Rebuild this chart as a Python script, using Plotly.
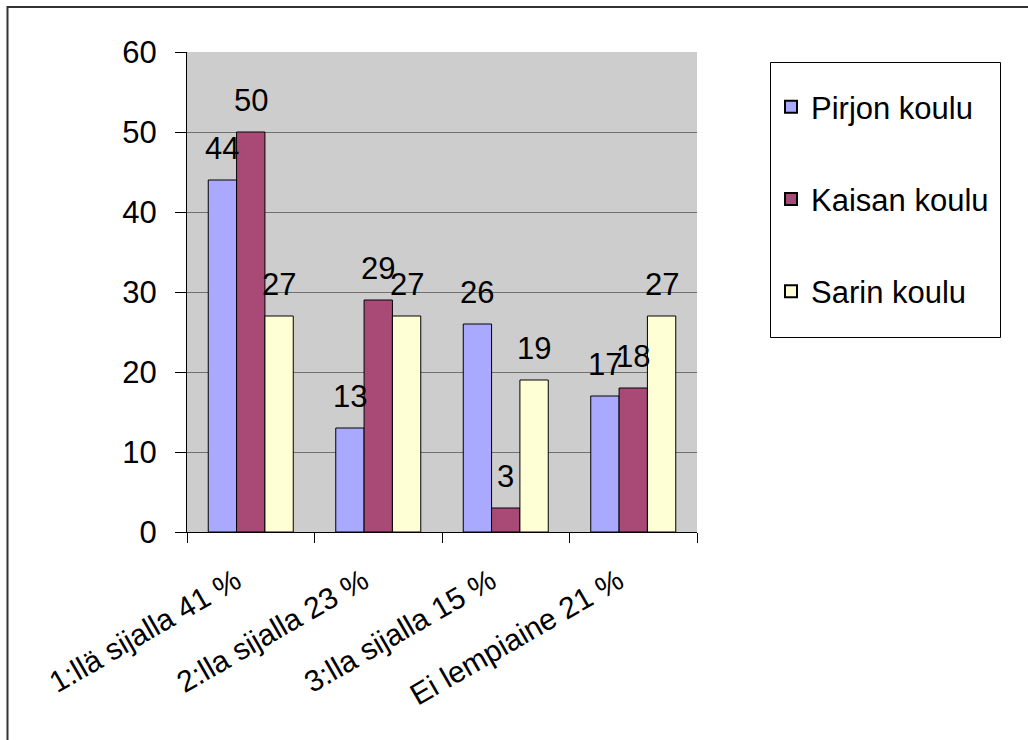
import plotly.graph_objects as go

categories = ["1:llä sijalla 41 %", "2:lla sijalla 23 %", "3:lla sijalla 15 %", "Ei lempiaine 21 %"]
series_names = ["Pirjon koulu", "Kaisan koulu", "Sarin koulu"]
pirjo = [44, 13, 26, 17]
kaisa = [50, 29, 3, 18]
sari = [27, 27, 19, 27]
colors = ["#A9A9FF", "#A94A76", "#FFFFD5"]
y_ticks = [0, 10, 20, 30, 40, 50, 60]

W, H = 1028, 740
L, R, T, B = 187, 331, 52, 208
PW = W - L - R
PH = H - T - B
BARGAP = 1 / 3
FONT = "Liberation Sans, Arial, sans-serif"
FS = 31

fig = go.Figure()
all_series = [pirjo, kaisa, sari]
for i, (name, vals) in enumerate(zip(series_names, all_series)):
    fig.add_trace(go.Bar(
        x=categories, y=vals, name=name,
        marker=dict(color=colors[i], line=dict(color="#000000", width=1)),
        legendgroup=name,
    ))

# data labels
cat_w = PW / len(categories)
bar_w = cat_w * (1 - BARGAP) / len(all_series)
annotations = []
for i, vals in enumerate(all_series):
    off = (i - (len(all_series) - 1) / 2) * bar_w
    for c, v in zip(categories, vals):
        annotations.append(dict(
            x=c, y=v, xref="x", yref="y", text=str(v), showarrow=False,
            xshift=off, yshift=12, yanchor="bottom", xanchor="center",
            font=dict(family=FONT, size=FS, color="#000000"),
        ))

def px_x(p):
    return (p - L) / PW

def px_y(p):
    return (H - B - p) / PH

shapes = [
    # outer frame lines (top & left)
    dict(type="line", xref="paper", yref="paper", x0=px_x(7.5), x1=px_x(W + 5),
         y0=px_y(7), y1=px_y(7), line=dict(color="#333333", width=2)),
    dict(type="line", xref="paper", yref="paper", x0=px_x(7.5), x1=px_x(7.5),
         y0=px_y(6), y1=px_y(H + 5), line=dict(color="#333333", width=2)),
    # legend box
    dict(type="rect", xref="paper", yref="paper", x0=px_x(770.5), x1=px_x(1000.5),
         y0=px_y(62.5), y1=px_y(337.5), line=dict(color="#000000", width=1),
         fillcolor="rgba(0,0,0,0)"),
]

fig.update_layout(
    width=W, height=H,
    margin=dict(l=L, r=R, t=T, b=B, pad=0),
    paper_bgcolor="#FFFFFF",
    plot_bgcolor="#CDCDCD",
    barmode="group",
    bargap=BARGAP,
    bargroupgap=0,
    font=dict(family=FONT, size=FS, color="#000000"),
    annotations=annotations,
    shapes=shapes,
    legend=dict(
        x=px_x(771), y=px_y(80), xanchor="left", yanchor="top",
        bgcolor="rgba(0,0,0,0)", borderwidth=0,
        font=dict(family=FONT, size=FS, color="#000000"),
        traceorder="grouped", tracegroupgap=49,
        itemsizing="constant",
    ),
    xaxis=dict(
        type="category",
        showline=True, linecolor="#000000", linewidth=1,
        ticks="outside", tickson="boundaries", ticklen=10, tickcolor="#000000",
        tickangle=-30, tickfont=dict(family=FONT, size=30, color="#000000"),
        showgrid=False, fixedrange=True,
        ticklabelstandoff=19, ticklabelshift=-15,
    ),
    yaxis=dict(
        range=[0, 60], tickvals=y_ticks,
        showline=True, linecolor="#000000", linewidth=1,
        ticks="outside", ticklen=11, tickcolor="#000000",
        showgrid=True, gridcolor="#707070", gridwidth=1,
        zeroline=False,
        tickfont=dict(family=FONT, size=FS, color="#000000"),
        ticklabelstandoff=12,
    ),
)

fig.write_html("out.html")
